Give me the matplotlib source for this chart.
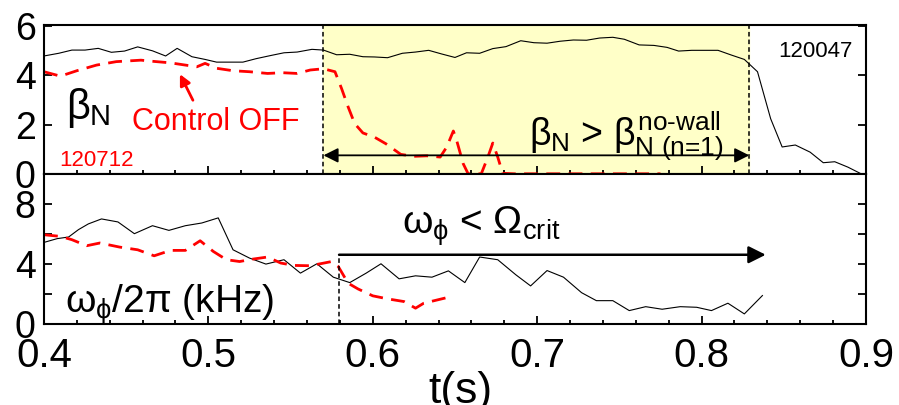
import matplotlib
matplotlib.use("Agg")
import matplotlib.pyplot as plt
from matplotlib.ticker import MultipleLocator

plt.rcParams['font.family'] = ['Liberation Sans', 'DejaVu Sans']
plt.rcParams['mathtext.fontset'] = 'custom'
plt.rcParams['mathtext.rm'] = 'Liberation Sans'
plt.rcParams['mathtext.it'] = 'Liberation Sans'
plt.rcParams['mathtext.bf'] = 'Liberation Sans:bold'

## Données ##

# beta_N, choc 120047 (trait noir)
t_beta_on = [0.400, 0.409, 0.417, 0.425, 0.433, 0.441, 0.449, 0.457, 0.466, 0.474,
             0.481, 0.490, 0.498, 0.505, 0.513, 0.521, 0.529, 0.538, 0.546, 0.554,
             0.563, 0.570, 0.578, 0.586, 0.594, 0.601, 0.609, 0.618, 0.626, 0.634,
             0.642, 0.650, 0.657, 0.665, 0.673, 0.681, 0.690, 0.698, 0.706, 0.714,
             0.722, 0.730, 0.738, 0.746, 0.753, 0.762, 0.771, 0.779, 0.786, 0.794,
             0.802, 0.810, 0.818, 0.826, 0.834, 0.842, 0.849, 0.857, 0.866, 0.874,
             0.881, 0.889, 0.897]
beta_on = [4.79, 4.90, 5.03, 5.03, 5.10, 4.94, 4.99, 5.16, 5.00, 4.79,
           5.10, 4.76, 4.65, 4.54, 4.54, 4.54, 4.68, 4.81, 4.92, 4.95,
           5.06, 5.03, 4.84, 4.86, 4.76, 4.75, 4.72, 4.90, 4.95, 5.02,
           4.87, 4.73, 4.92, 4.90, 5.09, 5.17, 5.41, 5.33, 5.31, 5.39,
           5.44, 5.43, 5.52, 5.55, 5.47, 5.24, 5.22, 5.14, 4.99, 5.02,
           5.02, 5.02, 4.83, 4.65, 4.15, 2.24, 1.09, 1.17, 0.88, 0.45,
           0.49, 0.27, 0.0]

# beta_N, choc 120712 (tirets rouges)
t_beta_off = [0.400, 0.410, 0.420, 0.432, 0.444, 0.459, 0.465, 0.477, 0.493, 0.498,
              0.505, 0.515, 0.525, 0.536, 0.545, 0.554, 0.562, 0.570, 0.577, 0.581,
              0.585, 0.589, 0.594, 0.601, 0.608, 0.617, 0.625, 0.633, 0.641, 0.645,
              0.649, 0.651, 0.655, 0.658, 0.666, 0.670, 0.673, 0.676, 0.679, 0.686,
              0.700, 0.720, 0.740, 0.760, 0.775]
beta_off = [4.15, 3.97, 4.19, 4.42, 4.56, 4.62, 4.58, 4.51, 4.35, 4.49,
            4.29, 4.19, 4.15, 4.08, 4.11, 4.08, 4.22, 4.27, 4.15, 3.47,
            2.72, 2.04, 1.66, 1.49, 1.22, 0.79, 0.71, 0.73, 0.68, 1.09,
            1.74, 1.36, 0.41, 0.0, 0.0, 0.68, 1.25, 0.68, 0.02, 0.0,
            0.0, 0.0, 0.0, 0.0, 0.0]

# rotation omega/2pi (kHz), choc 120047
t_rot_on = [0.400, 0.408, 0.415, 0.421, 0.427, 0.435, 0.445, 0.455, 0.466, 0.476,
            0.486, 0.496, 0.506, 0.515, 0.525, 0.535, 0.546, 0.556, 0.566, 0.576,
            0.586, 0.596, 0.605, 0.616, 0.626, 0.636, 0.646, 0.656, 0.665, 0.676,
            0.687, 0.696, 0.706, 0.716, 0.727, 0.736, 0.746, 0.756, 0.766, 0.776,
            0.787, 0.797, 0.806, 0.816, 0.826, 0.837]
rot_on = [5.44, 5.69, 5.80, 6.29, 6.67, 7.00, 6.80, 6.02, 6.55, 6.24,
          6.55, 6.73, 7.07, 4.95, 4.40, 4.00, 4.29, 3.40, 4.02, 3.13,
          2.77, 3.40, 4.02, 3.02, 3.22, 3.13, 3.55, 2.77, 4.47, 4.29,
          3.29, 2.55, 3.57, 3.13, 2.10, 1.57, 1.57, 0.91, 1.17, 1.00,
          1.17, 1.13, 0.91, 1.40, 0.69, 1.91]

# rotation, choc 120712
t_rot_off = [0.400, 0.410, 0.417, 0.426, 0.434, 0.446, 0.457, 0.467, 0.477, 0.486,
             0.495, 0.503, 0.511, 0.519, 0.527, 0.536, 0.544, 0.552, 0.562, 0.575,
             0.579, 0.585, 0.591, 0.600, 0.609, 0.619, 0.626, 0.631, 0.645]
rot_off = [5.95, 5.84, 5.62, 5.22, 5.40, 5.13, 4.95, 4.55, 4.91, 4.91,
           5.55, 4.84, 4.29, 4.17, 4.33, 4.47, 4.07, 3.91, 3.89, 4.17,
           3.84, 2.73, 2.35, 1.89, 1.69, 1.51, 1.07, 1.40, 1.77]

t_start = 0.570
t_end = 0.829
t_crit = 0.5795
t_crit_end = 0.839

## Figure ##

fig = plt.figure(figsize=(8.99, 4.05), dpi=100)
ax1 = fig.add_axes([0.0489, 0.5709, 0.9144, 0.3686])
ax2 = fig.add_axes([0.0489, 0.1993, 0.9144, 0.3716])

red = '#ff0000'
for ax in (ax1, ax2):
    ax.set_xlim(0.4, 0.9)
    ax.xaxis.set_major_locator(MultipleLocator(0.1))
    ax.xaxis.set_minor_locator(MultipleLocator(0.02))
    ax.tick_params(which='both', direction='in', right=True, top=False, width=1.3)
    ax.tick_params(which='major', length=6, labelsize=27, pad=6)
    ax.tick_params(which='minor', length=3)
    for s in ax.spines.values():
        s.set_linewidth(1.5)

# panneau beta_N
ax1.axvspan(t_start, t_end, color='#ffffc8', zorder=0)
ax1.plot(t_beta_on, beta_on, color='black', lw=0.8)
ax1.plot(t_beta_off, beta_off, color=red, lw=2, dashes=(5, 3))
ax1.axvline(t_start, color='black', lw=1.1, dashes=(3, 2))
ax1.axvline(t_end, color='black', lw=1.1, dashes=(3, 2))
ax1.set_ylim(0, 6.07)
ax1.set_yticks([0, 2, 4, 6])
ax1.tick_params(axis='x', labelbottom=False)
ax1.annotate('', xy=(t_start, 0.75), xytext=(t_end, 0.75),
             arrowprops=dict(arrowstyle='<|-|>', color='black', lw=1.3,
                             mutation_scale=22, shrinkA=0, shrinkB=0))
ax1.text(0.0265, 0.37, r'$\beta_{\mathrm{N}}$', transform=ax1.transAxes, fontsize=30)
ax1.text(0.107, 0.29, 'Control OFF', transform=ax1.transAxes, fontsize=22, color=red)
ax1.text(0.019, 0.05, '120712', transform=ax1.transAxes, fontsize=16, color=red)
ax1.text(0.893, 0.78, '120047', transform=ax1.transAxes, fontsize=16, color='black')
ax1.annotate('', xy=(0.4827, 4.05), xytext=(0.4906, 2.99),
             arrowprops=dict(arrowstyle='-|>', color=red, lw=2,
                             mutation_scale=16, shrinkA=0, shrinkB=0))
ax1.text(0.590, 0.19, r'$\beta_{\mathrm{N}}$ > $\beta^{\text{no-wall}}_{\text{N (n=1)}}$',
         transform=ax1.transAxes, fontsize=27)

# panneau rotation
ax2.plot(t_rot_on, rot_on, color='black', lw=0.8)
ax2.plot(t_rot_off, rot_off, color=red, lw=2, dashes=(5, 3))
ax2.set_ylim(0, 10)
ax2.set_yticks([0, 2, 4, 6, 8])
ax2.set_yticklabels(['0', '', '4', '', '8'])
ax2.tick_params(axis='x', labelsize=29, pad=9)
ax2.plot([t_crit, t_crit], [0, 4.62], color='black', lw=1.1, dashes=(3, 2))
ax2.annotate('', xy=(t_crit_end, 4.62), xytext=(t_crit, 4.62),
             arrowprops=dict(arrowstyle='-|>', color='black', lw=1.8,
                             mutation_scale=26, shrinkA=0, shrinkB=0))
ax2.text(0.435, 0.6, r'$\omega_{\phi}$ < $\Omega_{\mathrm{crit}}$',
         transform=ax2.transAxes, fontsize=28)
ax2.text(0.025, 0.08, r'$\omega_{\phi}$/2$\pi$ (kHz)', transform=ax2.transAxes, fontsize=28)

fig.text(460 / 899, 1 - 403 / 405, 't(s)', ha='center', va='baseline', fontsize=32)

fig.savefig('out.png', dpi=100)
